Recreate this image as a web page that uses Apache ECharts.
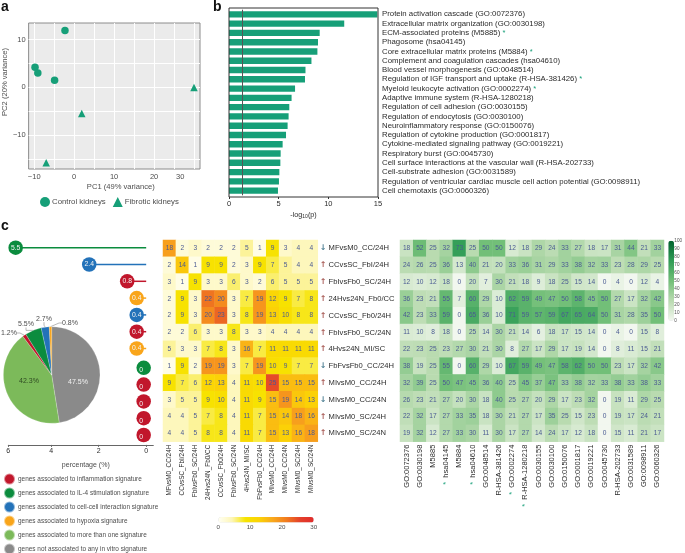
<!DOCTYPE html>
<html><head><meta charset="utf-8">
<script src="https://cdn.jsdelivr.net/npm/echarts@6/dist/echarts.min.js"></script>
<style>html,body{margin:0;padding:0;background:#fff}#c{width:685px;height:553px}</style>
</head><body><div id="c"></div>
<script>
const controlPoints=[[-2.3,11.95],[-9.8,4.25],[-9.1,3],[-4.9,1.5]];
const fibroticPoints=[[30,0],[1.9,-5.45],[-7,-15.8]];
const enrichNames=["Protein activation cascade (GO:0072376)","Extracellular matrix organization (GO:0030198)","ECM-associated proteins (M5885)","Phagosome (hsa04145)","Core extracellular matrix proteins (M5884)","Complement and coagulation cascades (hsa04610)","Blood vessel morphogenesis (GO:0048514)","Regulation of IGF transport and uptake (R-HSA-381426)","Myeloid leukocyte activation (GO:0002274)","Adaptive immune system (R-HSA-1280218)","Regulation of cell adhesion (GO:0030155)","Regulation of endocytosis (GO:0030100)","Neuroinflammatory response (GO:0150076)","Regulation of cytokine production (GO:0001817)","Cytokine-mediated signaling pathway (GO:0019221)","Respiratory burst (GO:0045730)","Cell surface interactions at the vascular wall (R-HSA-202733)","Cell-substrate adhesion (GO:0031589)","Regulation of ventricular cardiac muscle cell action potential (GO:0098911)","Cell chemotaxis (GO:0060326)"];
const enrichStarred=[2,4,7,8];
const enrichValues=[14.93,11.6,9.13,8.96,8.9,8.3,7.7,7.65,6.65,6.3,6.07,6.0,5.9,5.74,5.4,5.2,5.17,5.07,5.03,4.93];
const rowNames=["MFvsM0_CC/24H","CCvsSC_FbI/24H","FbIvsFb0_SC/24H","24Hvs24N_Fb0/CC","CCvsSC_Fb0/24H","FbIvsFb0_SC/24N","4Hvs24N_MI/SC","FbFvsFb0_CC/24H","MIvsM0_CC/24H","MIvsM0_CC/24N","MIvsM0_SC/24H","MIvsM0_SC/24N"];
const rowDown=[0,7,9];
const rowPercent=[5.5,2.4,0.8,0.4,0.4,0.4,0.4,0,0,0,0,0];
const rowSignature=["il4","cell","inflam","hypoxia","cell","inflam","hypoxia","il4","inflam","inflam","inflam","inflam"];
const signatureColors={inflam:"#c1172c",il4:"#0b8c3e",cell:"#2372b9",hypoxia:"#f9a51a",multi:"#7cba5a",none:"#8a8a8a"};
const pieNames={none:"genes not associated to any in vitro signature",multi:"genes associated to more than one signature",inflam:"genes associated to inflammation signature",il4:"genes associated to IL-4 stimulation signature",cell:"genes associated to cell-cell interaction signature",hypoxia:"genes associated to hypoxia signature"};
const pieOrder=["none","multi","inflam","il4","cell","hypoxia"];
const pieValues=[47.5,42.3,1.2,5.5,2.7,0.8];
const legendOrder=["inflam","il4","cell","hypoxia","multi"];
const legendLast=["none"];
const overlapRows=[
[18,2,3,2,2,2,5,1,9,3,4,4],
[2,14,1,9,9,2,3,9,7,5,4,4],
[3,1,9,3,3,6,3,2,6,5,5,5],
[2,9,3,22,20,3,7,19,12,9,7,8],
[2,9,3,20,23,3,8,19,13,10,8,8],
[2,2,6,3,3,8,3,3,4,4,4,4],
[5,3,3,7,8,3,16,7,11,11,11,11],
[1,9,2,19,19,3,7,19,10,9,7,7],
[9,7,6,12,13,4,11,10,25,15,15,15],
[3,5,5,9,10,4,11,9,15,19,14,13],
[4,4,5,7,8,4,11,7,15,14,18,16],
[4,4,5,8,8,4,11,7,15,13,16,18]];
const termNames=["GO:0072376","GO:0030198","M5885","hsa04145","M5884","hsa04610","GO:0048514","R-HSA-381426","GO:0002274","R-HSA-1280218","GO:0030155","GO:0030100","GO:0150076","GO:0001817","GO:0019221","GO:0045730","R-HSA-202733","GO:0031589","GO:0098911","GO:0060326"];
const termStarred=[3,5,8,9];
const termRows=[
[18,52,25,32,73,25,50,50,12,18,29,24,33,27,18,17,31,44,21,33],
[24,26,25,36,13,40,21,20,33,36,31,29,33,38,32,33,23,28,29,25],
[12,10,12,18,0,20,7,30,21,18,9,18,25,15,14,0,4,0,12,4],
[36,23,21,55,7,60,29,10,62,59,49,47,50,58,45,50,27,17,32,42],
[42,23,33,59,0,65,36,10,71,59,57,59,67,65,64,50,31,28,35,50],
[11,10,8,18,0,25,14,30,21,14,6,18,17,15,14,0,4,0,15,8],
[22,23,25,23,27,30,21,30,8,27,17,29,17,19,14,0,8,11,15,21],
[38,19,25,55,0,60,29,10,67,59,49,47,58,62,50,50,23,17,32,42],
[32,39,25,50,47,45,36,40,25,45,37,47,33,38,32,33,38,33,38,33],
[26,23,21,27,20,30,18,40,25,27,20,29,17,23,32,0,19,11,29,25],
[22,32,17,27,33,35,18,30,21,27,17,35,25,15,23,0,19,17,24,21],
[19,32,12,27,33,30,11,30,17,27,14,24,17,12,18,0,15,11,21,17]];

const FONT='"Liberation Sans",Arial,sans-serif';
const TEAL="#169f78",TXT="#2b2b2b",GRAY="#4d4d4d",CELLTXT="#4a5a92";
const cells=rows=>rows.flatMap((r,y)=>r.map((v,x)=>[x,y,v]));
const fmtNeg=v=>String(v).replace('-','\u2212');
const sig=rowSignature.map(k=>signatureColors[k]);
const nzIdx=rowPercent.map((v,i)=>i).filter(i=>rowPercent[i]>0);
const zIdx=rowPercent.map((v,i)=>i).filter(i=>rowPercent[i]===0);
const sigLegend=(keys,top)=>({left:3,top,padding:0,orient:'vertical',itemWidth:11,itemHeight:11,itemGap:1,data:keys.map(k=>({name:pieNames[k],icon:'circle'})),textStyle:{fontSize:6.45,color:GRAY,padding:[0,0,0,-2]}});

const hideAxis={axisLine:{show:false},axisTick:{show:false},axisLabel:{show:false},splitLine:{show:false}};
const option={
 animation:false,
 textStyle:{fontFamily:FONT},
 graphic:[
  {type:'text',left:1,top:0,style:{text:'a',font:'bold 14px '+FONT,fill:'#111'}},
  {type:'text',left:213,top:0,style:{text:'b',font:'bold 14px '+FONT,fill:'#111'}},
  {type:'text',left:1,top:219,style:{text:'c',font:'bold 14px '+FONT,fill:'#111'}},
  {type:'text',left:176,top:173,style:{text:'30',font:'7.5px '+FONT,fill:GRAY}},
  {type:'rect',shape:{x:229,y:8,width:149,height:189},style:{fill:'none',stroke:'#333',lineWidth:1},z:20}
 ],
 legend:[
  {left:40,top:197,padding:0,itemWidth:10,itemHeight:10,itemGap:7,data:[{name:'Control kidneys',icon:'circle'},{name:'Fibrotic kidneys',icon:'triangle'}],textStyle:{fontSize:7.8,color:GRAY,padding:[0,0,0,-3]}},
  sigLegend(legendOrder,472.5),
  sigLegend(legendLast,542.5)
 ],
 grid:[
  {left:23,top:23,width:177,height:146,show:true,backgroundColor:'#ebebeb',borderColor:'#8c8c8c',borderWidth:1},
  {left:229,top:9.7,width:149,height:185.6},
  {left:8.3,top:239.3,width:145,height:201.6},
  {left:163,top:240,width:154.8,height:201.7},
  {left:400,top:240,width:264,height:201.7},
  {left:218.3,top:517,width:95.4,height:5.6},
  {left:668.3,top:240.7,width:5.7,height:80}
 ],
 xAxis:[
  {gridIndex:0,type:'value',min:-11.4,max:31.5,name:'PC1 (49% variance)',nameLocation:'middle',nameGap:14,nameTextStyle:{fontSize:7.6,color:GRAY,padding:[0,0,0,13]},
   axisLine:{show:false},axisTick:{show:false,customValues:[-10,-5,0,5,10,15,20,25,30]},
   axisLabel:{customValues:[-10,0,10,20],fontSize:7.5,color:GRAY,margin:4,formatter:fmtNeg},splitLine:{show:true,lineStyle:{color:'#fff',width:1}}},
  {gridIndex:1,type:'value',min:0,max:15,interval:5,offset:1.7,name:'{n|-log}{s|10}{n|(p)}',nameLocation:'middle',nameGap:14,nameTextStyle:{rich:{n:{fontSize:7.2,color:TXT},s:{fontSize:5,color:TXT,verticalAlign:'bottom',padding:[3,0,0,0]}}},
   axisLine:{show:false},axisTick:{show:true,length:2,lineStyle:{color:'#333'}},axisLabel:{fontSize:7.5,color:TXT,margin:3},splitLine:{show:false}},
  {gridIndex:2,type:'value',inverse:true,min:-0.3,max:5.81,offset:4,name:'percentage (%)',nameLocation:'middle',nameGap:17,nameTextStyle:{fontSize:7,color:GRAY,padding:[0,0,0,10]},
   axisLine:{show:true,lineStyle:{color:'#666',width:1}},axisTick:{show:true,length:2,customValues:[0,2,4,5.81],lineStyle:{color:'#666'}},
   axisLabel:{customValues:[0,2,4,5.81],fontSize:7,color:TXT,margin:3,formatter:v=>String(Math.ceil(v))},splitLine:{show:false}},
  {gridIndex:3,type:'category',data:rowNames,position:'bottom',...hideAxis,axisLabel:{show:true,rotate:90,fontSize:6.4,color:TXT,margin:3,interval:0}},
  {gridIndex:4,type:'category',data:termNames,position:'bottom',...hideAxis,axisLabel:{show:true,rotate:90,fontSize:7.5,color:TXT,margin:3,interval:0,
    formatter:(v,i)=>termStarred.includes(i)?'{s|*}  '+v:v,rich:{s:{fontSize:7.5,color:TEAL}}}},
  {gridIndex:5,type:'value',min:0,max:30,interval:10,axisLine:{show:false},axisTick:{show:false},axisLabel:{fontSize:6.2,color:GRAY,margin:2},splitLine:{show:false}},
  {gridIndex:6,type:'value',min:0,max:1,...hideAxis}
 ],
 yAxis:[
  {gridIndex:0,type:'value',min:-17.1,max:13.5,name:'PC2 (20% variance)',nameLocation:'middle',nameGap:15,nameTextStyle:{fontSize:7.6,color:GRAY,padding:[0,0,0,28]},
   axisLine:{show:false},axisTick:{show:false,customValues:[-15,-10,-5,0,5,10]},
   axisLabel:{customValues:[-10,0,10],fontSize:7.5,color:GRAY,margin:3,formatter:fmtNeg},splitLine:{show:true,lineStyle:{color:'#fff',width:1}}},
  {gridIndex:1,type:'category',inverse:true,position:'right',data:enrichNames,...hideAxis,axisLabel:{show:true,interval:0,fontSize:7.8,color:TXT,margin:4,
    formatter:(v,i)=>enrichStarred.includes(i)?v+' {s|*}':v,rich:{s:{fontSize:7.5,color:TEAL}}}},
  {gridIndex:2,type:'category',inverse:true,data:rowNames,...hideAxis},
  {gridIndex:3,type:'category',inverse:true,position:'right',data:rowNames,...hideAxis,axisLabel:{show:true,interval:0,fontSize:7.6,color:TXT,margin:2,
    formatter:(v,i)=>(rowDown.includes(i)?'{d|\u2193}':'{u|\u2191}')+' '+v,
    rich:{d:{fontSize:8,fontWeight:'bold',color:'#4f8094',fontFamily:'"DejaVu Sans"'},u:{fontSize:8,fontWeight:'bold',color:'#a85a55',fontFamily:'"DejaVu Sans"'}}}},
  {gridIndex:4,type:'category',inverse:true,data:rowNames,...hideAxis},
  {gridIndex:5,type:'value',min:0,max:1,...hideAxis},
  {gridIndex:6,type:'value',min:0,max:100,interval:10,position:'right',axisLine:{show:false},axisTick:{show:false},axisLabel:{fontSize:4.6,color:GRAY,margin:3},splitLine:{show:false}}
 ],
 visualMap:[
  {type:'continuous',seriesIndex:7,min:0,max:30,orient:'horizontal',left:218.3,top:517,padding:0,itemWidth:5.6,itemHeight:95.4,calculable:false,hoverLink:false,text:null,showLabel:false,
   inRange:{color:['#fffff4','#fdf6b8','#f6e400','#fbd206','#f9a81c','#f17c1f','#e4412a','#e02b2b']}},
  {type:'continuous',seriesIndex:8,min:0,max:100,orient:'vertical',left:668.3,top:240.7,padding:0,itemWidth:5.7,itemHeight:80,calculable:false,hoverLink:false,text:null,showLabel:false,
   inRange:{color:['#f2f7ef','#b9dbb0','#72bf78','#2f9c55','#00622e']}}
 ],
 series:[
  {name:'Control kidneys',type:'scatter',xAxisIndex:0,yAxisIndex:0,data:controlPoints,symbol:'circle',symbolSize:7.5,itemStyle:{color:TEAL,opacity:1}},
  {name:'Fibrotic kidneys',type:'scatter',xAxisIndex:0,yAxisIndex:0,data:fibroticPoints,symbol:'triangle',symbolSize:7.5,itemStyle:{color:TEAL,opacity:1}},
  {type:'bar',xAxisIndex:1,yAxisIndex:1,data:enrichValues,barWidth:6.4,itemStyle:{color:TEAL},
   markLine:{silent:true,symbol:'none',label:{show:false},lineStyle:{color:'#555',type:'solid',width:1},data:[{xAxis:1.3}]}},
  {type:'bar',xAxisIndex:2,yAxisIndex:2,barWidth:1.5,data:rowPercent.map((v,i)=>({value:v,itemStyle:{color:sig[i]}}))},
  {type:'scatter',xAxisIndex:2,yAxisIndex:2,symbolSize:14.5,z:5,
   data:nzIdx.map(i=>({value:[rowPercent[i],i],itemStyle:{color:sig[i],opacity:1}})),
   label:{show:true,position:'inside',fontSize:6.8,color:'#f4f4f4',formatter:p=>String(p.value[0])}},
  {type:'scatter',xAxisIndex:2,yAxisIndex:2,symbolSize:14.5,z:5,symbolOffset:[-2.5,2.5],
   data:zIdx.map(i=>({value:[rowPercent[i],i],itemStyle:{color:sig[i],opacity:1}})),
   label:{show:true,position:'inside',offset:[-2.5,2.5],fontSize:6.8,color:'#f4f4f4',formatter:p=>String(p.value[0])}},
  {type:'pie',center:[51.7,375],radius:[0,48.3],startAngle:90,clockwise:true,avoidLabelOverlap:false,z:6,
   data:pieOrder.map((k,i)=>({name:pieNames[k],value:pieValues[i],itemStyle:{color:signatureColors[k]}})),
   itemStyle:{borderColor:'rgba(255,255,255,0.5)',borderWidth:0.4},
   label:{show:true,fontSize:7,color:GRAY,formatter:p=>p.value.toFixed(1)+'%'},
   labelLine:{show:true,length:6,length2:3,lineStyle:{color:'#888',width:0.6}},
   labelLayout:p=>{const pos=[{x:78,y:381.7,align:'center',verticalAlign:'middle'},{x:29,y:381,align:'center',verticalAlign:'middle'},{x:9,y:333,align:'center',verticalAlign:'middle'},{x:26,y:324,align:'center',verticalAlign:'middle'},{x:44,y:318.7,align:'center',verticalAlign:'middle'},{x:70,y:323,align:'center',verticalAlign:'middle'}];return pos[p.dataIndex];}},
  {type:'heatmap',xAxisIndex:3,yAxisIndex:3,data:cells(overlapRows),label:{show:true,fontSize:6.6,color:CELLTXT,formatter:p=>String(p.value[2])},itemStyle:{borderWidth:0}},
  {type:'heatmap',xAxisIndex:4,yAxisIndex:4,data:cells(termRows),label:{show:true,fontSize:6.6,color:CELLTXT,formatter:p=>String(p.value[2])},itemStyle:{borderWidth:0}}
 ]
};
// pie: the two large slices carry their labels inside
option.series[6].data[0].label={color:'#f2f2f2'};option.series[6].data[0].labelLine={show:false};
option.series[6].data[1].label={color:'#2f4a22'};option.series[6].data[1].labelLine={show:false};
echarts.init(document.getElementById('c')).setOption(option);
</script></body></html>
